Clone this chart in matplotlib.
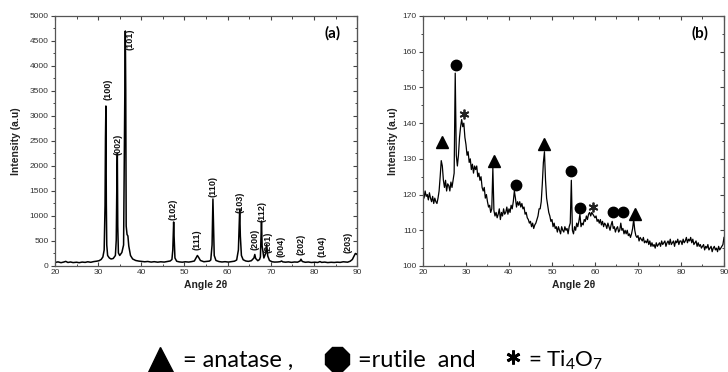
import numpy as np
import matplotlib
matplotlib.use("Agg")
import matplotlib.pyplot as plt
from matplotlib.lines import Line2D
from matplotlib.ticker import MultipleLocator

plt.rcParams["font.family"] = ["Liberation Sans", "DejaVu Sans"]
plt.rcParams["mathtext.fontset"] = "custom"
plt.rcParams["mathtext.rm"] = "Lato"
plt.rcParams["mathtext.it"] = "Lato"

# ---- panel (a): XRD pattern ----
angle_a = [20, 20.7, 21.4, 22, 22.5, 23, 23.6, 24.2, 25, 25.6, 26.3, 27, 27.6, 28.3, 29, 29.6,
           30.2, 30.7, 31.1, 31.4, 31.6, 31.7, 31.8, 31.9, 32.0, 32.2, 32.6, 33, 33.5, 34,
           34.2, 34.35, 34.45, 34.55, 34.7, 35, 35.5, 35.9, 36.1, 36.2, 36.3, 36.4, 36.5,
           36.7, 36.9, 37.1, 37.5, 38, 38.7, 39.4, 40, 40.8, 41.5, 42.3, 43, 43.8, 44.5, 45.3,
           46, 46.7, 47.1, 47.3, 47.5, 47.6, 47.8, 48.2, 48.8, 49.5, 50.2, 51, 51.7, 52.3,
           52.7, 53, 53.3, 53.7, 54.5, 55.2, 55.8, 56.1, 56.4, 56.6, 56.7, 56.9, 57.3, 58,
           58.7, 59.4, 60.2, 61, 61.6, 62.1, 62.5, 62.7, 62.8, 62.95, 63.2, 63.6, 64.2, 64.8,
           65.5, 66.1, 66.3, 66.5, 67, 67.4, 67.6, 67.85, 68, 68.4, 68.8, 69.05, 69.3, 69.7,
           70.3, 70.9, 71.6, 72.2, 72.5, 72.8, 73.4, 74.1, 74.8, 75.5, 76.2, 76.8, 77.0,
           77.3, 78, 78.7, 79.4, 80.2, 80.9, 81.4, 81.8, 82.5, 83.2, 84, 84.7, 85.4, 86.1,
           86.8, 87.3, 87.8, 88.4, 88.9, 89.3, 89.6, 90]
counts_a = [70, 82, 66, 78, 92, 70, 80, 68, 75, 66, 78, 72, 84, 74, 88, 95,
            105, 130, 180, 320, 1200, 2550, 3200, 1250, 420, 210, 160, 140, 150, 210,
            520, 1750, 2250, 800, 260, 210, 270, 420, 2600, 3550, 4700, 3500, 800,
            630, 600, 400, 210, 140, 110, 98, 92, 84, 90, 78, 86, 76, 84, 78,
            90, 100, 130, 320, 880, 600, 160, 95, 82, 76, 84, 78, 88, 100,
            165, 210, 170, 110, 85, 92, 98, 120, 420, 1340, 950, 210, 110, 88,
            80, 86, 78, 88, 96, 120, 320, 900, 1130, 600, 210, 125, 100, 92,
            105, 160, 230, 150, 105, 130, 180, 900, 400, 160, 250, 430, 200, 110,
            84, 78, 80, 86, 100, 82, 76, 82, 72, 80, 76, 100, 135,
            90, 74, 80, 70, 76, 70, 88, 72, 78, 68, 74, 70, 76, 72,
            84, 80, 76, 95, 130, 200, 250, 230]
label_hkl = ["(100)", "(002)", "(101)", "(102)", "(111)", "(110)", "(103)", "(200)",
             "(112)", "(201)", "(004)", "(202)", "(104)", "(203)"]
label_x = [32.4, 34.7, 37.5, 47.4, 52.9, 56.7, 62.9, 66.4, 68.0, 69.4, 72.4, 77.0, 81.9, 87.9]
label_y = [3320, 2220, 4320, 920, 320, 1380, 1060, 320, 880, 260, 180, 220, 180, 260]

# ---- panel (b): XRD pattern, 0.25 deg steps from 20 to 90 ----
angle_b = np.arange(20, 90.001, 0.25)
counts_b = [
    120.5, 119, 121, 119.5, 120, 118.5, 120.5, 119, 118, 119.5, 117.5, 119, 118, 117.5, 119, 121, 125, 129.5, 128, 124,
    122, 124, 121, 123, 122.5, 121, 123.5, 122, 124, 126, 154, 131, 128, 131, 136, 139, 141, 139, 140, 136,
    134, 131, 132, 129, 130, 127, 128.5, 126, 128, 127, 128, 125, 126, 124, 125, 122, 121, 122, 119, 120,
    118, 116.5, 117, 115, 116, 127.5, 115.5, 114, 115, 113.5, 114.5, 116, 113, 115, 114, 116, 114.5, 115, 116.5, 114.5,
    116, 115, 117, 116, 118, 121, 119, 116.5, 118, 117, 118, 116.5, 117.5, 116, 116.5, 114.5, 115, 113.5, 113, 112,
    112.5, 111, 112, 110.5, 111.5, 112, 113, 114, 116, 116, 118, 123, 129, 132, 124, 119, 117, 115, 114, 112.5,
    113, 111, 112, 110.5, 111, 109.5, 111, 110, 109, 111, 110, 109.5, 111, 110, 110.5, 109, 111, 112, 124, 110,
    109, 111, 110, 112, 111, 112.5, 114.5, 111, 112, 111.5, 113, 112.5, 114, 113, 114.5, 115, 114, 115, 114.5, 114,
    113.5, 114, 112.5, 113, 112, 113, 111.5, 112.5, 111, 112, 111.5, 110.5, 112, 111, 110, 111.5, 112.5, 110.5, 111, 109.5,
    110.5, 111, 109.5, 110, 112, 110, 110.5, 109, 110, 109, 110, 108.5, 109, 108, 109, 110.5, 113, 110, 108.5, 108,
    108.5, 107, 108, 107.5, 107, 108, 106.5, 107, 106.5, 107.5, 106, 107, 105.5, 106.5, 105.5, 106, 105, 106.5, 105.5, 106,
    106.5, 105.5, 107, 106, 106.5, 107, 105.5, 106.5, 107, 106, 107.5, 106, 106.5, 107, 105.5, 107, 106.5, 107.5, 106, 107,
    107, 106, 107.5, 106.5, 107, 108, 106.5, 107.5, 107, 108, 106.5, 107.5, 106, 106.5, 107, 105.5, 106.5, 105.5, 106, 105,
    105.5, 106, 104.5, 105.5, 105, 106, 104.5, 105, 105.5, 104, 105, 105.5, 104.5, 105, 104, 105.5, 104.5, 105, 105.5, 106,
    108]
anatase_x = [24.5, 36.6, 48.1, 69.2]
anatase_y = [134.7, 129.3, 134.2, 114.6]
rutile_x = [27.7, 41.7, 54.5, 56.6, 64.1, 66.4]
rutile_y = [156.2, 122.8, 126.5, 116.2, 115.1, 115.1]
ti4o7_x = [29.5, 59.6]
ti4o7_y = [142.6, 116.5]

fig = plt.figure(figsize=(7.28, 3.72), dpi=100)
ax_a = fig.add_axes([0.0755, 0.285, 0.415, 0.672])
ax_b = fig.add_axes([0.581, 0.285, 0.4135, 0.672])

ax_a.plot(angle_a, counts_a, color="black", lw=1.1)
for t, x, y in zip(label_hkl, label_x, label_y):
    ax_a.text(x, y, t, rotation=90, ha="center", va="bottom", fontsize=6.5,
              fontweight="bold", color="#111111")
ax_a.set_ylim(0, 5000)
ax_a.yaxis.set_major_locator(MultipleLocator(500))
ax_a.yaxis.set_minor_locator(MultipleLocator(250))

ax_b.plot(angle_b, counts_b, color="black", lw=0.9)
ax_b.plot(anatase_x, anatase_y, ls="none", marker="^", ms=8, color="black")
ax_b.plot(rutile_x, rutile_y, ls="none", marker="o", ms=7.5, color="black")
ax_b.plot(ti4o7_x, ti4o7_y, ls="none", marker=(6, 2, 0), ms=7, mew=1.3, color="#222222")
ax_b.set_ylim(100, 170)
ax_b.yaxis.set_major_locator(MultipleLocator(10))
ax_b.yaxis.set_minor_locator(MultipleLocator(5))

for ax, tag, ypad in [(ax_a, "(a)", 6), (ax_b, "(b)", 3)]:
    ax.set_xlim(20, 90)
    ax.xaxis.set_major_locator(MultipleLocator(10))
    ax.xaxis.set_minor_locator(MultipleLocator(5))
    ax.tick_params(axis="x", which="both", direction="in", top=True, labelsize=6,
                   colors="#444444", labelcolor="#333333", pad=2)
    ax.tick_params(axis="y", which="both", direction="out", labelsize=6,
                   colors="#444444", labelcolor="#333333", pad=1.5)
    ax.tick_params(which="major", length=3, width=0.8)
    ax.tick_params(which="minor", length=1.8, width=0.7)
    sec = ax.secondary_yaxis("right")
    sec.yaxis.set_major_locator(ax.yaxis.get_major_locator())
    sec.yaxis.set_minor_locator(ax.yaxis.get_minor_locator())
    sec.tick_params(which="both", direction="in", labelright=False, colors="#444444")
    sec.tick_params(which="major", length=3, width=0.8)
    sec.tick_params(which="minor", length=1.8, width=0.7)
    sec.spines["right"].set_color("#555555")
    for s in ax.spines.values():
        s.set_color("#555555")
        s.set_linewidth(0.9)
    ax.set_xlabel("Angle 2θ", fontsize=7.5, fontweight="bold", color="#222222", labelpad=3)
    ax.set_ylabel("Intensity (a.u)", fontsize=7.5, fontweight="bold", color="#222222",
                  labelpad=ypad)
    ax.text(0.92, 0.93, tag, transform=ax.transAxes, ha="center", va="center",
            fontsize=11, fontweight="bold", family="Lato")

# legend row at the bottom of the figure
fig.add_artist(Line2D([0.2198], [0.036], transform=fig.transFigure, marker="^",
                      ms=18, color="black", ls="none"))
fig.add_artist(Line2D([0.463], [0.036], transform=fig.transFigure, marker="8",
                      ms=19, color="black", ls="none"))
fig.add_artist(Line2D([0.7045], [0.040], transform=fig.transFigure, marker=(6, 2, 0),
                      ms=10, mew=2, color="black", ls="none"))
fig.text(0.251, 0.014, "= anatase ,", fontsize=17, family="Lato", va="baseline")
fig.text(0.492, 0.014, "=rutile  and", fontsize=17, family="Lato", va="baseline")
fig.text(0.725, 0.014, "= Ti$_4$O$_7$", fontsize=16, family="Lato", va="baseline")

fig.savefig("out.png", dpi=100)
